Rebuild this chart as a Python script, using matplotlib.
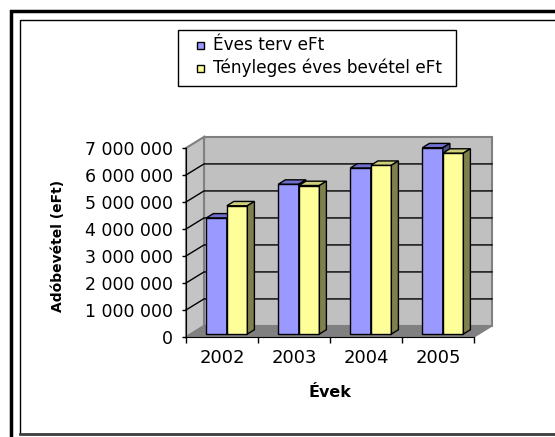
import numpy as np
import matplotlib.pyplot as plt
from matplotlib.patches import Polygon, Rectangle
from matplotlib.lines import Line2D
from matplotlib.ticker import FuncFormatter

# Adatok
evek = ['2002', '2003', '2004', '2005']
terv = [4300000, 5550000, 6150000, 6900000]
tenyleges = [4750000, 5500000, 6250000, 6700000]
nevek = ['Éves terv eFt', 'Tényleges éves bevétel eFt']
szinek = ['#9999ff', '#ffff99']
y_max = 7000000

W, H = 555, 437
fig = plt.figure(figsize=(W / 100, H / 100), dpi=100)
ax = fig.add_axes([186 / W, 1 - 337 / H, 288 / W, 189 / H])
ax.set_xlim(0, len(evek))
ax.set_ylim(0, y_max)
ax.set_facecolor('none')

# a "3D" doboz mélysége adategységben
dx, dy = 0.25, 0.41e6
n = len(evek)

# hátsó fal, bal fal, padló
ax.add_patch(Polygon([(dx, dy), (n + dx, dy), (n + dx, y_max + dy), (dx, y_max + dy)],
                     fc='#c0c0c0', ec='#808080', lw=1.5, clip_on=False, zorder=1))
ax.add_patch(Polygon([(0, 0), (dx, dy), (dx, y_max + dy), (0, y_max)],
                     fc='#c4c4c4', ec='#808080', lw=1.5, clip_on=False, zorder=1))
ax.add_patch(Polygon([(0, 0), (n, 0), (n + dx, dy), (dx, dy)],
                     fc='#808080', ec='#808080', lw=1, clip_on=False, zorder=1.2))

# rácsvonalak
for k in range(1000000, y_max, 1000000):
    ax.plot([0, dx, n + dx], [k, k + dy, k + dy], color='black', lw=1,
            clip_on=False, zorder=1.5)

# oszlopok
w = 0.285
bx, by = 0.39 * dx, 0.39 * dy
ox, oy = 0.27 * dx, 0.27 * dy
sorozatok = [
    (terv, szinek[0], '#6f6fcf', '#4d4d80'),
    (tenyleges, szinek[1], '#cfcf7c', '#80804d'),
]
for j, (vals, front, top, side) in enumerate(sorozatok):
    x = np.arange(n) + (1 - 2 * w) / 2 + j * w + ox
    vals = np.array(vals)
    z = 3 + j
    ax.bar(x, vals, width=w, bottom=oy, align='edge', color=front,
           edgecolor='black', lw=1, clip_on=False, zorder=z)
    for xi, v in zip(x, vals):
        t = oy + v
        ax.add_patch(Polygon([(xi, t), (xi + w, t), (xi + w + bx, t + by), (xi + bx, t + by)],
                             fc=top, ec='black', lw=1, clip_on=False, zorder=z))
        ax.add_patch(Polygon([(xi + w, oy), (xi + w + bx, oy + by), (xi + w + bx, t + by), (xi + w, t)],
                             fc=side, ec='black', lw=1, clip_on=False, zorder=z))

# tengelyek
for s in ['top', 'right']:
    ax.spines[s].set_visible(False)
ax.spines['left'].set_color('black')
ax.spines['bottom'].set_color('black')
ax.set_yticks(range(0, y_max + 1, 1000000))
ax.yaxis.set_major_formatter(FuncFormatter(lambda v, _: f"{int(v):,}".replace(",", " ")))
ax.tick_params(axis='y', length=3, width=1, pad=6.5, labelsize=12.5)
ax.set_xticks(range(n + 1))
ax.set_xticklabels([])
ax.set_xticks(np.arange(n) + 0.5, minor=True)
ax.set_xticklabels(evek, minor=True)
ax.tick_params(axis='x', which='major', length=4, width=1)
ax.tick_params(axis='x', which='minor', length=0, pad=8.5, labelsize=13)

ax.set_ylabel('Adóbevétel (eFt)', fontsize=10, fontweight='bold')
ax.yaxis.set_label_coords(-0.42, 0.48)
ax.set_xlabel('Évek', fontsize=11.5, fontweight='bold')
ax.xaxis.set_label_coords(0.5, -0.255)

# jelmagyarázat (kézzel, hogy a keret mérete egyezzen)
fig.add_artist(Rectangle((178 / W, 1 - 86 / H), 278 / W, 56 / H, transform=fig.transFigure,
                         fc='white', ec='black', lw=1))
for i, (nev, c) in enumerate(zip(nevek, szinek)):
    yc = 45 + i * 23
    fig.add_artist(Rectangle((197 / W, 1 - (yc + 3.5) / H), 7 / W, 7 / H,
                             transform=fig.transFigure, fc=c, ec='black', lw=1))
    fig.text(213 / W, 1 - yc / H, nev, ha='left', va='center', fontsize=12.2)

# keret
fig.add_artist(Rectangle((11 / W, -0.1), 1.2, 1 - 11 / H + 0.1, transform=fig.transFigure,
                         fill=False, ec='black', lw=2.5))
fig.add_artist(Rectangle((20 / W, 3 / H), 1.2, 1 - 23 / H, transform=fig.transFigure,
                         fill=False, ec='black', lw=1))
fig.add_artist(Line2D([20 / W, 1], [3 / H, 3 / H], transform=fig.transFigure,
                      color='#404040', lw=2))

fig.savefig('out.png', dpi=100)
